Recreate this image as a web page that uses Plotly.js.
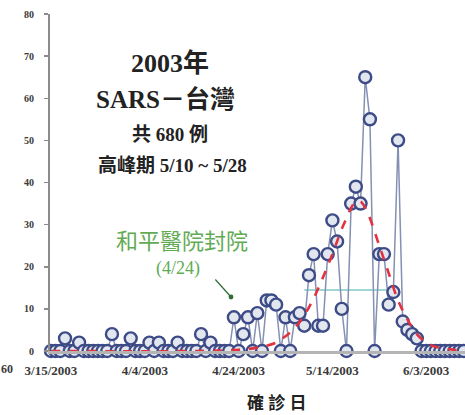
<!DOCTYPE html>
<html>
<head>
<meta charset="utf-8">
<script src="https://cdn.plot.ly/plotly-3.0.1.min.js"></script>
<style>html,body{margin:0;padding:0;background:#fff;}#chart{width:465px;height:415px;}</style>
</head>
<body>
<div id="chart"></div>
<script>
// Daily confirmed SARS cases, Taiwan 2003, starting 3/15/2003 (one value per day)
var startDate = '2003-03-15';
var cases = [
  0,0,0,3,0,0,2,0,0,0,       // 3/15 - 3/24
  0,0,0,4,0,0,0,3,0,0,       // 3/25 - 4/3
  0,2,0,2,0,0,0,2,0,0,       // 4/4 - 4/13
  0,0,4,0,2,0,0,0,0,8,       // 4/14 - 4/23
  0,4,8,0,9,0,12,12,11,0,    // 4/24 - 5/3
  8,0,8,9,6,18,23,6,6,23,    // 5/4 - 5/13
  31,26,10,0,35,39,35,65,55,0, // 5/14 - 5/23
  23,23,11,14,50,7,5,4,3,0,  // 5/24 - 6/2
  0,0,0,0,0,0,0,0,0          // 6/3 - 6/11
];
// Fitted (red dashed) curve
var fitDays = ['2003-03-15','2003-04-14','2003-04-24','2003-04-28','2003-05-02','2003-05-04','2003-05-06','2003-05-08','2003-05-10','2003-05-12','2003-05-14','2003-05-16','2003-05-17','2003-05-18','2003-05-19','2003-05-20','2003-05-21','2003-05-22','2003-05-24','2003-05-26','2003-05-28','2003-05-30','2003-06-01','2003-06-03','2003-06-05','2003-06-08','2003-06-11'];
var fitVals = [0,0,0.3,0.8,2,3.5,5.5,8.5,12.5,17.5,23,29,31.5,34,35.5,35.5,34,31.5,25,18.5,12,7.5,4,2,1,0.4,0.1];
// Light teal horizontal reference line
var refDays = ['2003-05-08','2003-05-27'];
var refVals = [14.5,14.5];
// Tick labels
var tickDates = ['2003-03-15','2003-04-04','2003-04-24','2003-05-14','2003-06-03'];
var tickLabels = ['3/15/2003','4/4/2003','4/24/2003','5/14/2003','6/3/2003'];
var yTicks = [0,10,20,30,40,50,60,70,80];

function addDays(s, n) {
  var d = new Date(s + 'T00:00:00Z');
  d.setUTCDate(d.getUTCDate() + n);
  return d.toISOString().slice(0, 10);
}
var dates = cases.map(function (v, i) { return addDays(startDate, i); });

var serif = 'Liberation Serif, Noto Sans CJK TC, serif';
var data = [
  {x: refDays, y: refVals, type: 'scatter', mode: 'lines',
   line: {color: '#9fd6d6', width: 2}, hoverinfo: 'skip', showlegend: false},
  {x: dates, y: cases, type: 'scatter', mode: 'lines+markers', cliponaxis: false,
   line: {color: '#8591b3', width: 1.5},
   marker: {symbol: 'circle', size: 12, color: '#e2e6ee', line: {color: '#3d4b86', width: 2.4}},
   showlegend: false},
  {x: fitDays, y: fitVals, type: 'scatter', mode: 'lines', line: {color: '#e2323f', width: 2.6, dash: 'dash', shape: 'spline'},
   cliponaxis: false, showlegend: false}
];

function ann(text, x, y, size, color, weight) {
  return {text: text, xref: 'paper', yref: 'paper', x: x, y: y, showarrow: false,
          xanchor: 'center', yanchor: 'middle',
          font: {family: serif, size: size, color: color, weight: weight || 'bold'}};
}
var P = function (px) { return (px - 50) / 415; };
var Q = function (py) { return (351 - py) / 337; };

var layout = {
  width: 465, height: 415,
  margin: {l: 50, r: 0, t: 14, b: 64},
  paper_bgcolor: '#ffffff', plot_bgcolor: '#ffffff',
  xaxis: {type: 'date', range: ['2003-03-14 19:00', '2003-06-11 06:30'],
          tickvals: tickDates, ticktext: tickLabels,
          showgrid: false, zeroline: false, showline: true, linecolor: '#b4b4b4', linewidth: 3,
          ticks: '', ticklabelstandoff: 5,
          tickfont: {family: serif, size: 13, color: '#3a3a3a', weight: 'bold'}},
  yaxis: {range: [0, 80], tickvals: yTicks, showgrid: false, zeroline: false,
          showline: true, linecolor: '#8c8c8c', linewidth: 2,
          ticks: 'outside', ticklen: 4, tickcolor: '#8c8c8c', tickwidth: 1.5,
          ticklabelstandoff: 8,
          tickfont: {family: serif, size: 10, color: '#3a3a3a', weight: 'bold'}},
  annotations: [
    ann('2003年', P(170), Q(63), 26, '#222'),
    ann('SARS－台灣', P(165), Q(99), 25, '#222'),
    ann('共 680 例', P(170), Q(134), 19, '#222'),
    ann('高峰期 5/10 ~ 5/28', P(172), Q(165), 19, '#222'),
    ann('和平醫院封院', P(182), Q(241), 22, '#62ab55', 'normal'),
    ann('(4/24)', P(178), Q(268), 18, '#62ab55', 'normal'),
    ann('確 診 日', P(277), Q(403), 17, '#222'),
    {text: '60', xref: 'paper', yref: 'paper', x: P(15), y: Q(369), xanchor: 'right', yanchor: 'middle',
     showarrow: false, font: {family: serif, size: 12, color: '#3a3a3a', weight: 'bold'}},
    {xref: 'paper', yref: 'paper', x: P(231), y: Q(297), ax: P(214), ay: Q(278),
     axref: 'paper', ayref: 'paper', text: '', showarrow: true,
     arrowhead: 6, arrowsize: 1, arrowwidth: 1.2, arrowcolor: '#2f6b33'}
  ]
};

Plotly.newPlot('chart', data, layout, {displayModeBar: false, staticPlot: true});
</script>
</body>
</html>
